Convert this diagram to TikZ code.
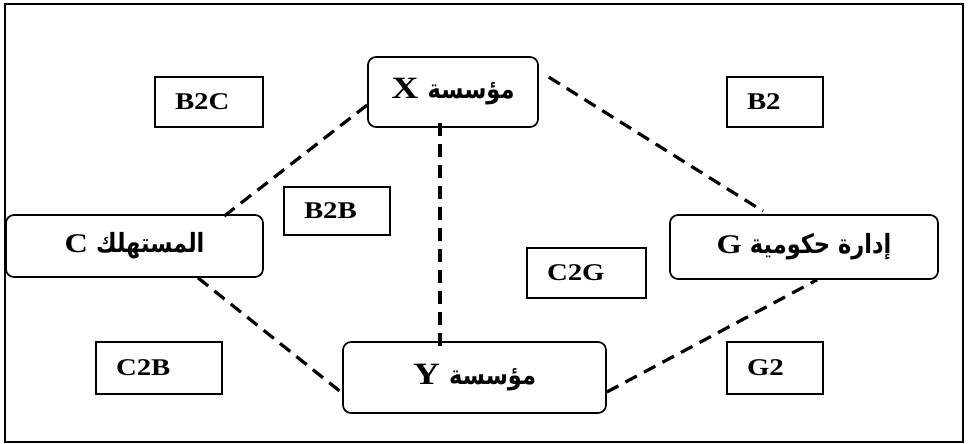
\documentclass[tikz,border=0pt]{standalone}
\usepackage{fontspec}
\setmainfont[FakeStretch=1.2]{Liberation Serif}
\newfontfamily\arabicfont[Script=Arabic, FakeStretch=0.85]{DejaVu Sans}
\TeXXeTstate=1
\usetikzlibrary{positioning, calc}

\newcommand{\arlabel}[2]{\beginR{\arabicfont\bfseries\fontsize{26.5}{26.5}\selectfont #1} #2\endR}

\begin{document}
\begin{tikzpicture}[x=1pt, y=-1pt]
  \tikzset{
    party/.style={draw, line width=1.7pt, rounded corners=8pt, inner sep=0pt},
    model/.style={draw, line width=1.7pt, align=left, inner xsep=20pt, inner ysep=0pt,
      font=\bfseries\fontsize{24}{24}\selectfont},
    link/.style={line width=3.2pt, dash pattern=on 13pt off 8pt}
  }
  \useasboundingbox (0,0) rectangle (969,444);
  \draw[line width=1.8pt] (5,4) rectangle (963,442);
  % parties
  \node[party, minimum width=170pt, minimum height=70pt, font=\bfseries\fontsize{31}{31}\selectfont]
    (firmX) at (453,92) {\arlabel{مؤسسة}{X}};
  \node[party, minimum width=257pt, minimum height=62pt, font=\bfseries\fontsize{27}{27}\selectfont]
    (consumer) at (134.5,246) {\arlabel{المستهلك}{C}};
  \node[party, minimum width=268pt, minimum height=64pt, font=\bfseries\fontsize{27}{27}\selectfont]
    (gov) at (804,247) {\arlabel{إدارة حكومية}{G}};
  \node[party, minimum width=263pt, minimum height=71pt, font=\bfseries\fontsize{31}{31}\selectfont]
    (firmY) at (474.5,377.5) {\arlabel{مؤسسة}{Y}};
  % models
  \node[model, text width=68pt, minimum height=50pt] (b2c) at (209,102) {B2C};
  \node[model, text width=66pt, minimum height=48pt] (b2b) at (337,211) {B2B};
  \node[model, text width=56pt, minimum height=50pt] (b2) at (775,102) {B2};
  \node[model, text width=79pt, minimum height=50pt] (c2g) at (586.5,273) {C2G};
  \node[model, text width=86pt, minimum height=52pt] (c2b) at (159,368) {C2B};
  \node[model, text width=56pt, minimum height=52pt] (g2) at (775,368) {G2};
  % links
  \draw[link] ([yshift=-13pt]firmX.west) -- ([xshift=-41pt,yshift=-3pt]consumer.north east);
  \draw[link] ([xshift=10pt,yshift=-21pt]firmX.north east) -- ([xshift=-41pt,yshift=3pt]gov.north);
  \draw[link] ([xshift=-13pt,yshift=5pt]firmX.south) -- ([xshift=-13pt,yshift=-10pt]firmX.south |- firmY.north);
  \draw[link] ([xshift=63.5pt]consumer.south) -- ([yshift=-15.5pt]firmY.west);
  \draw[link] ([yshift=-14.5pt]firmY.east) -- ([xshift=13pt]gov.south);
\end{tikzpicture}
\end{document}
